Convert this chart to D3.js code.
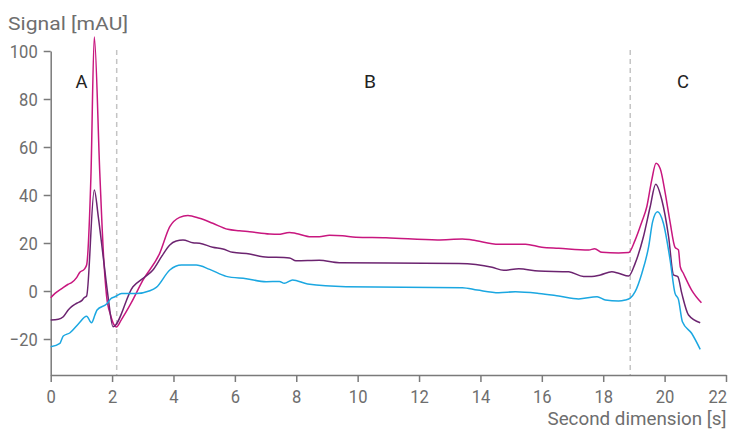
<!DOCTYPE html>
<html>
<head>
<meta charset="utf-8">
<script src="https://cdn.jsdelivr.net/npm/d3@7"></script>
<style>
  html, body { margin: 0; padding: 0; background: #fff; }
  svg text { font-family: Roboto, "Liberation Sans", sans-serif; }
</style>
</head>
<body>
<svg id="chart" width="731" height="432"></svg>
<script>
// ---- data ----
const xTicks = [0, 2, 4, 6, 8, 10, 12, 14, 16, 18, 20, 22];
const yTicks = [-20, 0, 20, 40, 60, 80, 100];
const regionLabels = ["A", "B", "C"];
const regionLabelX = [1.0, 10.4, 20.6];
const regionBounds = [2.15, 18.88];

const magentaT = [0,0.14,0.36,0.57,0.68,0.85,0.95,1.09,1.17,1.31,1.42,1.6,1.72,1.82,1.95,2.05,2.14,2.3,2.6,3.01,3.55,3.88,4.2,4.47,4.85,5.28,5.77,6.15,6.48,7.13,7.4,7.78,7.99,8.48,8.75,9.08,9.51,9.94,10.92,12.6,13.41,13.73,14.6,15.47,16.0,16.55,17.53,17.72,17.96,18.5,18.83,19.04,19.26,19.42,19.58,19.72,19.86,20.02,20.18,20.34,20.45,20.51,20.61,20.88,21.2];
const magentaV = [-2.8,-1.0,1.0,2.8,3.5,5.7,7.8,9.0,10.8,47.6,105.8,49,15,-2,-10,-13.8,-15,-12,-5.5,4.6,15.7,26.8,30.7,31.5,30.3,28.2,25.7,25.1,24.7,23.75,23.6,24.4,24,22.6,22.6,23.2,23,22.4,22.2,21.3,21.7,21.25,19.5,19.5,18.2,17.8,17.1,17.6,16.1,15.8,16.0,21.2,28.9,35.1,46.2,53.2,50.8,40.8,28.6,18.2,17.1,10.1,7.4,0.4,-4.9];

const purpleT = [0,0.25,0.41,0.57,0.68,0.85,1.01,1.09,1.17,1.42,1.55,1.71,1.87,2.03,2.68,3.01,3.33,3.61,3.88,4.09,4.31,4.63,4.85,5.28,5.61,5.93,6.48,6.91,7.78,7.99,8.75,9.4,13.3,14.38,14.76,15.25,15.9,16.88,17.36,17.63,17.91,18.28,18.5,18.83,19.04,19.31,19.53,19.71,19.91,20.13,20.29,20.43,20.56,20.78,21.16];
const purpleV = [-12.1,-11.8,-10.7,-7.9,-6.5,-5.1,-4.0,-2.8,-2.1,42.1,31,14.3,-2.4,-14.9,1.8,5.3,8.75,14.3,19.2,20.8,21.25,20.1,19.9,18.2,17.5,16.1,15.4,14.3,13.75,12.6,12.8,11.8,11.5,9.9,8.6,9.3,8.3,8.0,6.0,6.0,6.7,8.0,7.4,6.25,11.5,22.6,35.1,44.5,37.9,22.6,6.7,6.0,-1.0,-10,-13.2];

const cyanT = [0,0.3,0.41,0.63,0.9,1.17,1.33,1.44,1.51,1.82,1.98,2.09,2.31,2.79,3.23,3.44,3.88,4.26,4.74,5.18,5.72,6.37,7.02,7.45,7.61,7.88,8.37,9.62,13.41,13.9,14.6,15.14,15.9,16.55,17.2,17.8,18.07,18.5,18.72,18.88,19.04,19.26,19.48,19.61,19.77,19.96,20.18,20.34,20.45,20.58,20.88,21.16];
const cyanV = [-23.2,-21.8,-18.75,-17.4,-13.75,-10.5,-13.25,-10,-7.9,-5.4,-3.0,-2.4,-1.0,-1.0,0.1,1.5,8.75,10.8,10.8,9.0,6.1,5.1,3.9,4.0,3.2,4.6,2.9,1.8,1.4,0.4,-0.7,-0.3,-1.0,-2.1,-3.3,-2.4,-3.75,-4.2,-3.75,-3.0,-0.3,7.4,18.5,28.9,33,28.2,12.9,-1.0,-3.5,-12.8,-17.6,-24.3];

const seriesColors = ["#c8177f", "#6c2470", "#1ba7e1"];

// ---- drawing ----
const svg = d3.select("#chart");
const x = d3.scaleLinear().domain([0, 22]).range([50.7, 726]);
const y = d3.scaleLinear().domain([-35, 100]).range([375, 51]);

const axisColor = "#7a7a7a";
const textColor = "#6e6e6e";

// dashed region separators
svg.selectAll("line.sep").data(regionBounds).enter().append("line")
  .attr("x1", d => x(d)).attr("x2", d => x(d))
  .attr("y1", 50).attr("y2", 375)
  .attr("stroke", "#c4c4c4").attr("stroke-width", 1.5)
  .attr("stroke-dasharray", "5,4");

// axes
const xAxis = svg.append("g").attr("transform", "translate(0,375)")
  .call(d3.axisBottom(x).tickValues(xTicks).tickSize(7).tickSizeOuter(0).tickPadding(8));
const yAxis = svg.append("g").attr("transform", "translate(50.7,0)")
  .call(d3.axisLeft(y).tickValues(yTicks).tickSize(7).tickSizeOuter(0).tickPadding(6));

[xAxis, yAxis].forEach(g => {
  g.select(".domain").attr("stroke", axisColor).attr("stroke-width", 1.5);
  g.selectAll(".tick line").attr("stroke", axisColor).attr("stroke-width", 1.5);
  g.selectAll(".tick text").attr("fill", textColor).attr("font-size", 19)
    .attr("font-family", "Roboto, sans-serif")
    .each(function() {
      const t = d3.select(this).text();
      let w = 0;
      for (const c of t) w += (c === "-" ? 5.5 : 9.3);
      d3.select(this).attr("textLength", w).attr("lengthAdjust", "spacingAndGlyphs");
    });
});
// keep the last x label inside the picture, as in the reference
xAxis.selectAll(".tick text").filter(d => d === 22)
  .attr("text-anchor", "end").attr("x", 0.5);

// lines
const seriesList = [[magentaT, magentaV], [purpleT, purpleV], [cyanT, cyanV]];
const line = d3.line().x(d => x(d[0])).y(d => y(d[1])).curve(d3.curveMonotoneX);
seriesList.forEach((s, i) => {
  const pts = s[0].map((t, j) => [t, s[1][j]]);
  svg.append("path").datum(pts)
    .attr("d", line)
    .attr("fill", "none")
    .attr("stroke", seriesColors[i])
    .attr("stroke-width", 1.5)
    .attr("stroke-linejoin", "round");
});

// region labels
svg.selectAll("text.region").data(regionLabels).enter().append("text")
  .attr("x", (d, i) => x(regionLabelX[i]))
  .attr("y", 87.5)
  .attr("text-anchor", "middle")
  .attr("font-size", 19)
  .attr("fill", "#222")
  .attr("textLength", 12)
  .attr("lengthAdjust", "spacingAndGlyphs")
  .text(d => d);

// axis titles
svg.append("text").attr("x", 8).attr("y", 30)
  .attr("font-size", 19).attr("fill", textColor)
  .attr("textLength", 120).attr("lengthAdjust", "spacingAndGlyphs")
  .text("Signal [mAU]");
svg.append("text").attr("x", 726.5).attr("y", 425)
  .attr("text-anchor", "end")
  .attr("font-size", 19).attr("fill", textColor)
  .attr("textLength", 179).attr("lengthAdjust", "spacingAndGlyphs")
  .text("Second dimension [s]");
</script>
</body>
</html>
